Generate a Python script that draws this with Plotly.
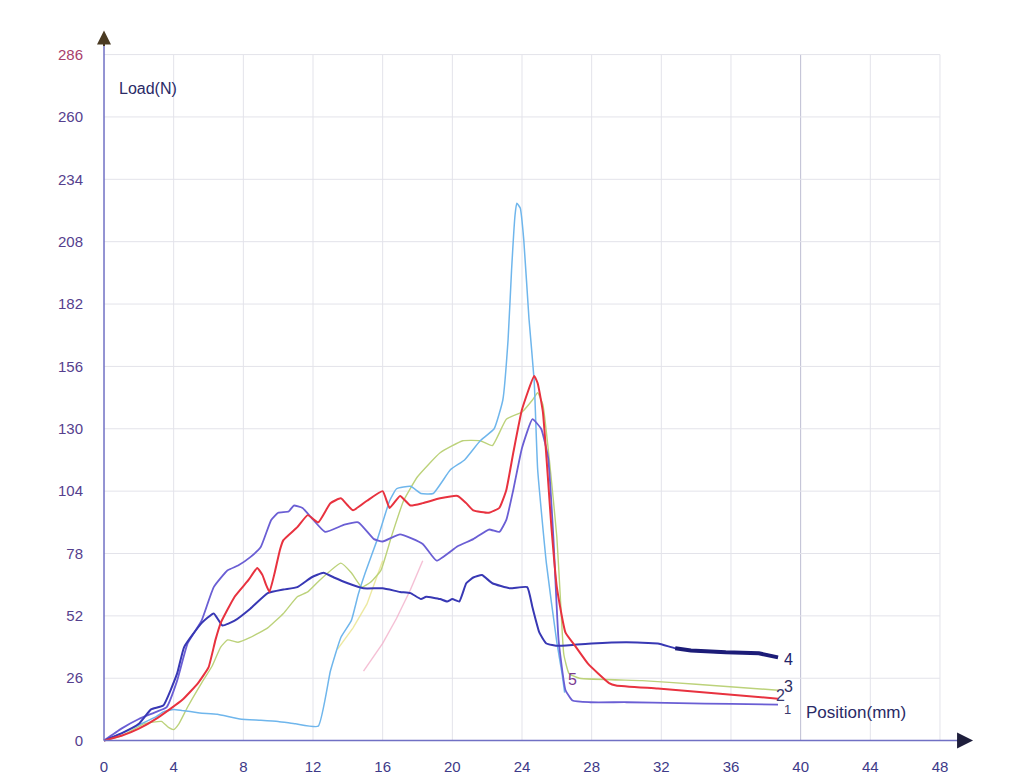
import plotly.graph_objects as go

# ---- load / position traces (mm, N) ----
pos_1 = [0, 1, 2, 3, 3.6, 4.2, 4.8, 5.6, 6.3, 7.1, 7.7, 8.4, 9.0, 9.6, 10.0, 10.6, 10.9, 11.4, 11.9,
         12.7, 13.8, 14.6, 15.5, 16.0, 17.0, 18.3, 19.1, 20.3, 21.2, 22.1, 22.7, 23.1, 23.5, 24.0,
         24.6, 25.1, 25.5, 25.8, 26.1, 26.5, 26.9, 27.9, 30, 33, 36, 38.7]
load_1 = [0, 5, 9, 12, 14, 25, 40.5, 50, 64, 71, 73, 76.5, 80.7, 92, 95, 95.5, 98, 97, 93,
          87, 90, 91, 84, 83, 86, 82, 75, 81, 84, 88, 87, 92, 104.5, 122,
          134, 130, 118, 85, 42, 21, 16.7, 16, 16, 15.6, 15.3, 15]

pos_2 = [0, 1, 2, 3.1, 4.5, 5.4, 6.0, 6.4, 6.7, 7.5, 8.3, 8.8, 9.1, 9.3, 9.5, 9.8, 10.1, 10.3, 11.1,
         11.7, 12.3, 13.0, 13.6, 14.0, 14.3, 15.1, 16.0, 16.4, 17.0, 17.6, 18.3, 19.3, 20.3, 20.8,
         21.2, 22.1, 22.7, 23.1, 23.5, 24.0, 24.7, 24.9, 25.2, 25.7, 26.0, 26.5, 27.1, 27.8, 29.0,
         29.4, 31.8, 35.2, 38.7]
load_2 = [0, 2, 5, 9.6, 17, 24, 30.5, 42, 49, 60, 67, 72, 69, 65, 62, 70, 79.5, 83.6, 89,
          94, 91, 99, 101, 98, 96, 100, 104, 97, 102, 98, 99, 101, 102, 99,
          96, 95, 97, 104.5, 120, 138, 152, 149, 137, 88, 64, 45, 39, 32, 24,
          23, 21.7, 19.6, 17.5]

pos_3 = [0, 1, 2.3, 3.3, 3.7, 4.0, 4.3, 4.8, 5.6, 6.2, 6.7, 7.1, 7.7, 8.4, 9.4, 10.3, 11.1, 11.7,
         12.4, 13.6, 14.2, 14.8, 15.3, 15.9, 16.5, 17.2, 18.0, 19.3, 20.6, 21.6, 22.3, 23.1, 24.0,
         24.6, 24.9, 25.2, 25.6, 26.0, 26.2, 26.4, 26.7, 27.3, 30.9, 34.0, 38.7]
load_3 = [0, 2, 7, 8, 5.5, 4.6, 7, 14, 24, 31, 39, 42, 41, 43, 47, 53, 60, 62,
          67, 74, 70, 64, 66, 71, 85, 100, 110, 120, 125, 125, 123, 134, 137,
          142, 145, 140, 115, 85, 60, 36, 28, 26, 25, 23.5, 21]

pos_4 = [0, 1, 2, 2.7, 3.4, 4.2, 4.6, 5.6, 6.3, 6.8, 7.5, 8.4, 9.4, 10.3, 11.1, 11.9, 12.6, 13.2,
         14.0, 14.9, 16.0, 17.0, 17.6, 18.2, 18.5, 19.3, 19.7, 20.0, 20.4, 20.8, 21.2, 21.7, 22.3,
         23.3, 24.3, 24.6, 25.0, 25.4, 26.1, 28.0, 30.0, 31.8, 32.8, 33.7, 35.7, 37.6, 38.7]
load_4 = [0, 3, 7, 13, 14.6, 28, 39, 49, 53, 48, 50, 55, 61.5, 63, 64, 68, 70, 68,
          65.6, 63.5, 63.5, 62, 61.5, 59, 60, 59, 58, 59, 58, 65.6, 68, 69, 65.6,
          63.5, 64, 55.6, 45, 40.5, 39.5, 40.5, 41, 40.5, 38.5, 37.6, 36.8, 36.4, 34.7]

pos_5 = [0, 1, 2, 3, 3.4, 4, 4.5, 5.5, 6.5, 7.8, 9, 10, 11, 12.3, 13.0, 13.6, 14.2, 14.6, 15.0,
         15.7, 16.4, 16.8, 17.6, 18.2, 18.9, 19.9, 20.7, 21.6, 22.4, 22.9, 23.2, 23.4, 23.6, 23.7,
         23.9, 24.1, 24.4, 24.7, 24.9, 25.4, 26.0, 26.3, 26.45]
load_5 = [0, 3, 6.5, 10, 12, 13, 12.5, 11.5, 11, 9, 8.5, 8, 7, 6, 29, 43, 50, 61, 70,
          84, 100, 105, 106, 103, 103, 113, 117, 125, 130, 142, 167, 196, 219, 224,
          222, 209, 176, 150, 113, 74, 41, 28, 20]

# faint, partly printed strokes between 13 and 18 mm
pos_faint_pink = [14.9, 15.5, 16.0, 16.8, 17.6, 18.3]
load_faint_pink = [29, 35, 40.5, 51, 63, 75]
pos_faint_yellow = [13.4, 14.3, 15.1, 16.0]
load_faint_yellow = [38, 47, 57, 75]

x_ticks = [0, 4, 8, 12, 16, 20, 24, 28, 32, 36, 40, 44, 48]
y_ticks = [0, 26, 52, 78, 104, 130, 156, 182, 208, 234, 260, 286]
curve_names = ["1", "2", "3", "4", "5"]

colors = {"1": "#6a5ed4", "2": "#e8323f", "3": "#bcd27a", "4": "#3838b4", "5": "#6fb6ec"}
widths = {"1": 1.8, "2": 2.0, "3": 1.4, "4": 2.0, "5": 1.5}
series = {"1": (pos_1, load_1), "2": (pos_2, load_2), "3": (pos_3, load_3),
          "4": (pos_4, load_4), "5": (pos_5, load_5)}

fig = go.Figure()

# background grid, limited to the 0-48 mm / 0-286 N frame
shapes = []
for xv in x_ticks[1:]:
    shapes.append(dict(type="line", xref="x", yref="y", x0=xv, x1=xv, y0=0, y1=y_ticks[-1],
                       line=dict(color="#bdbdd2" if xv == 40 else "#e3e3ea", width=1), layer="below"))
for yv in y_ticks[1:]:
    shapes.append(dict(type="line", xref="x", yref="y", x0=0, x1=x_ticks[-1], y0=yv, y1=yv,
                       line=dict(color="#e3e3ea", width=1), layer="below"))
# axis lines
shapes.append(dict(type="line", xref="x", yref="y", x0=0, x1=49.3, y0=0, y1=0,
                   line=dict(color="#7070c4", width=1.5)))
shapes.append(dict(type="line", xref="x", yref="y", x0=0, x1=0, y0=0, y1=292,
                   line=dict(color="#7070c4", width=1.5)))

fig.add_trace(go.Scatter(x=pos_faint_pink, y=load_faint_pink, mode="lines",
                         line=dict(color="#f2a6c4", width=1.4), opacity=0.7, showlegend=False))
fig.add_trace(go.Scatter(x=pos_faint_yellow, y=load_faint_yellow, mode="lines",
                         line=dict(color="#e6e07a", width=1.4), opacity=0.7, showlegend=False))

for name in ["3", "5", "1", "4", "2"]:
    xs, ys = series[name]
    fig.add_trace(go.Scatter(x=xs, y=ys, mode="lines", name=name,
                             line=dict(color=colors[name], width=widths[name], shape="spline",
                                       smoothing=0.4),
                             showlegend=False))

# heavy dark stroke on the end of curve 4
tail_x = [x for x in pos_4 if x >= 32.8]
tail_y = load_4[len(pos_4) - len(tail_x):]
fig.add_trace(go.Scatter(x=tail_x, y=tail_y, mode="lines",
                         line=dict(color="#1c1c78", width=4), showlegend=False))

annotations = []
# arrowheads
annotations.append(dict(x=49.9, y=0, ax=48.9, ay=0, xref="x", yref="y", axref="x", ayref="y",
                        showarrow=True, arrowhead=2, arrowsize=1.6, arrowwidth=2,
                        arrowcolor="#1e1e3c", text=""))
annotations.append(dict(x=0, y=296, ax=0, ay=289, xref="x", yref="y", axref="x", ayref="y",
                        showarrow=True, arrowhead=2, arrowsize=1.4, arrowwidth=2,
                        arrowcolor="#4a3a22", text=""))
# axis titles
annotations.append(dict(x=0.75, y=272, xref="x", yref="y", text="Load(N)", showarrow=False,
                        xanchor="left", font=dict(family="Liberation Sans, Arial", size=16,
                                                  color="#2a2a66")))
annotations.append(dict(x=40.2, y=11.7, xref="x", yref="y", text="Position(mm)", showarrow=False,
                        xanchor="left", font=dict(family="Liberation Sans, Arial", size=17,
                                                  color="#2a2a66")))
# curve numbers at the end of each trace
label_shift = {"1": (9, -5, "#3a3a6e", 13), "2": (2, 3, "#3a3a6e", 16),
               "3": (10, 4, "#2e2e5e", 16), "4": (10, -2, "#22226a", 16),
               "5": (8, 13, "#7a3a92", 16)}
for name in curve_names:
    xs, ys = series[name]
    dx, dy, col, fs = label_shift[name]
    annotations.append(dict(x=xs[-1], y=ys[-1], xref="x", yref="y", text=name, showarrow=False,
                            xshift=dx, yshift=dy,
                            font=dict(family="Liberation Sans, Arial", size=fs, color=col)))

y_ticktext = [str(v) for v in y_ticks]
y_ticktext[-1] = "<span style='color:#a8406c'>286</span>"

fig.update_layout(
    width=1017, height=778,
    margin=dict(l=100, r=30, t=21, b=23),
    paper_bgcolor="white", plot_bgcolor="white",
    shapes=shapes, annotations=annotations,
    xaxis=dict(range=[-0.23, 50.7], showgrid=False, zeroline=False, showline=False,
               tickmode="array", tickvals=x_ticks, ticks="", ticklabelstandoff=1,
               tickfont=dict(family="Liberation Sans, Arial", size=15, color="#3e3a88"),
               automargin=False),
    yaxis=dict(range=[-6, 300], showgrid=False, zeroline=False, showline=False,
               tickmode="array", tickvals=y_ticks, ticktext=y_ticktext, ticks="",
               ticklabelstandoff=16,
               tickfont=dict(family="Liberation Sans, Arial", size=15, color="#55408e"),
               automargin=False),
)

fig.write_html("out.html")
